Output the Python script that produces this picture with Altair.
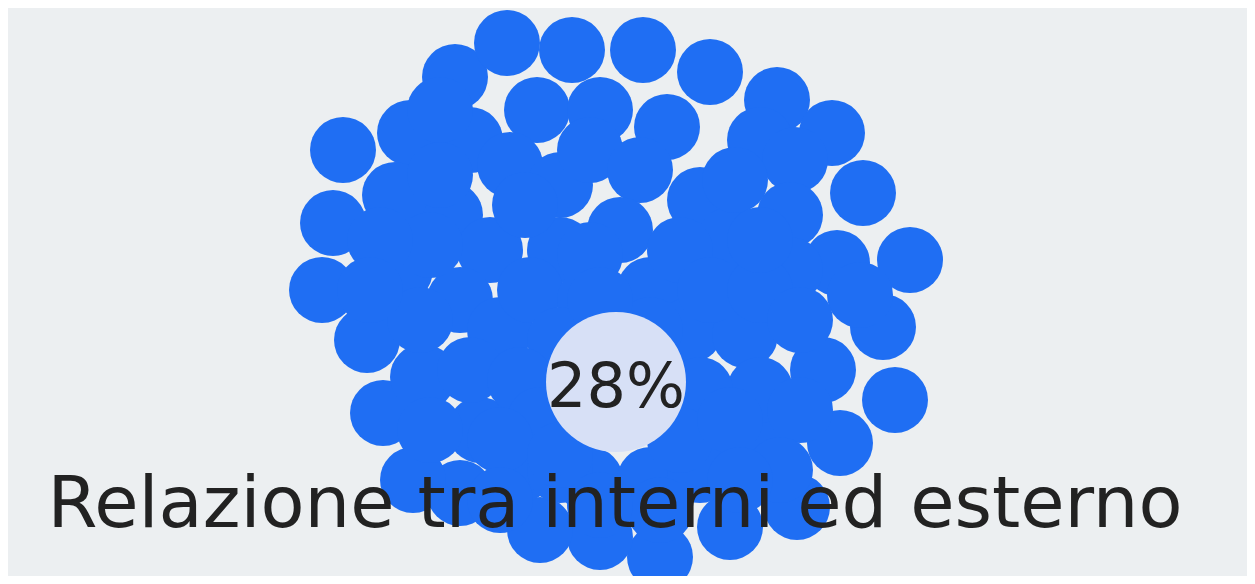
import altair as alt
import pandas as pd

# circle centres (pixel coordinates of the reference)
outer_x = [343, 410, 455, 507, 572, 643, 710, 777, 832, 863, 910, 883, 895, 840, 797, 730, 660, 600, 540, 460, 413, 383, 367, 322, 333, 837, 823, 760, 423, 537, 600, 667]
outer_y = [150, 133, 77, 43, 50, 50, 72, 100, 133, 193, 260, 327, 400, 443, 507, 527, 557, 537, 530, 493, 480, 413, 340, 290, 223, 263, 370, 450, 377, 110, 110, 127]

inner_x = [470, 510, 560, 590, 640, 700, 760, 795, 790, 450, 395, 490, 560, 620, 400, 730, 650, 790, 860, 690, 745, 760, 700, 460, 500, 530, 590, 480, 520, 590, 650, 700, 560,
           525, 430, 440, 590, 680, 710, 760, 800, 560, 470, 520, 540, 430, 500, 560, 680, 730, 800, 780, 740, 660, 600, 500, 420, 650, 600, 735, 760, 380, 370, 440]
inner_y = [140, 165, 185, 150, 170, 200, 140, 160, 215, 215, 195, 250, 250, 230, 270, 240, 290, 270, 295, 330, 335, 390, 390, 300, 330, 290, 300, 430, 470, 480, 480, 470, 470,
           205, 245, 175, 255, 250, 290, 290, 320, 340, 370, 380, 420, 430, 440, 455, 440, 420, 410, 470, 480, 510, 505, 500, 320, 330, 300, 180, 240, 240, 290, 110]

hl_x = [616]
hl_y = [382]
hl_label = ["28%"]

title_text = ["Relazione tra interni ed esterno"]
title_x = [615]
title_y = [527]

bubbles = pd.DataFrame({"x": outer_x + inner_x, "y": outer_y + inner_y})
hl = pd.DataFrame({"x": hl_x, "y": hl_y, "label": hl_label})
tt = pd.DataFrame({"x": title_x, "y": title_y, "label": title_text})

W, H = 1239, 568
xs = alt.Scale(domain=[8, 8 + W], nice=False, zero=False)
ys = alt.Scale(domain=[8 + H, 8], nice=False, zero=False)

blue = alt.Chart(bubbles).mark_circle(color="#1f6ef3", opacity=1, size=4356).encode(
    x=alt.X("x:Q", scale=xs, axis=None),
    y=alt.Y("y:Q", scale=ys, axis=None),
)

light = alt.Chart(hl).mark_circle(color="#d7e0f6", opacity=1, size=19600).encode(
    x=alt.X("x:Q", scale=xs, axis=None),
    y=alt.Y("y:Q", scale=ys, axis=None),
)

light_text = alt.Chart(hl).mark_text(
    font="DejaVu Sans", fontSize=62, color="#222222", align="center", baseline="alphabetic", dy=25
).encode(
    x=alt.X("x:Q", scale=xs, axis=None),
    y=alt.Y("y:Q", scale=ys, axis=None),
    text="label:N",
)

title = alt.Chart(tt).mark_text(
    font="DejaVu Sans", fontSize=72, color="#222222", align="center", baseline="alphabetic"
).encode(
    x=alt.X("x:Q", scale=xs, axis=None),
    y=alt.Y("y:Q", scale=ys, axis=None),
    text="label:N",
)

chart = alt.layer(blue, light, light_text, title).properties(
    width=W, height=H, padding=0, autosize=alt.AutoSizeParams(type="none"),
    background="#eceff1",
).configure_view(stroke=None)

chart.save("out.html", embed_options={"renderer": "svg", "actions": False})
